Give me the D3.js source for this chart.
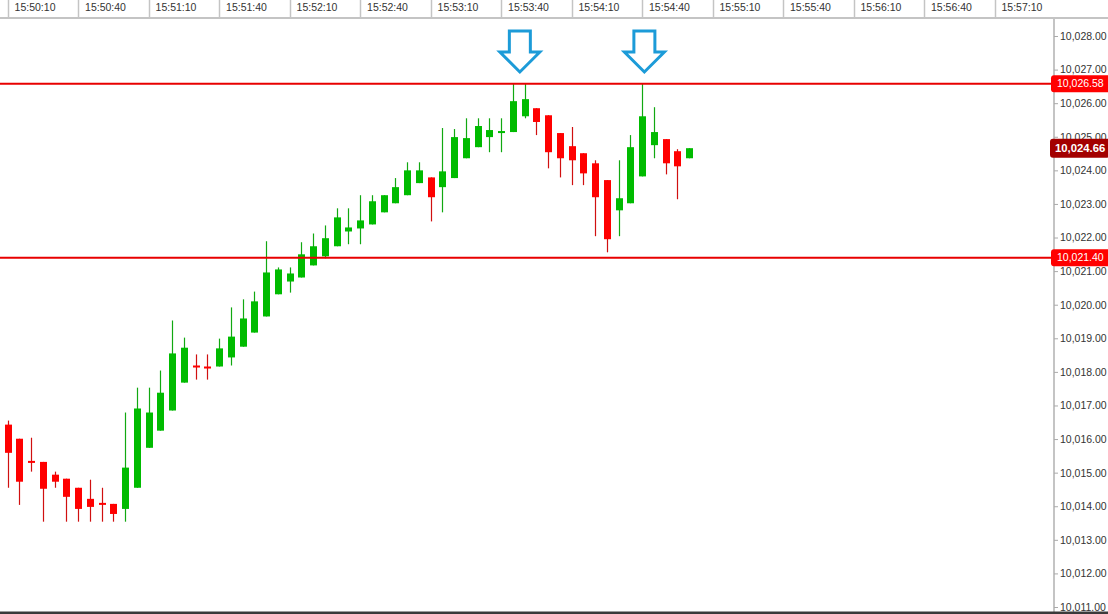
<!DOCTYPE html>
<html>
<head>
<meta charset="utf-8">
<script src="https://cdn.jsdelivr.net/npm/d3@7"></script>
<style>
html, body { margin: 0; padding: 0; background: #fff; }
svg { display: block; font-family: "Liberation Sans", Arial, sans-serif; }
</style>
</head>
<body>
<svg id="chart" width="1108" height="614"></svg>
<script>
// 5 second bars
var times = ["15:50:10","15:50:15","15:50:20","15:50:25","15:50:30","15:50:35","15:50:40","15:50:45","15:50:50","15:50:55",
  "15:51:00","15:51:05","15:51:10","15:51:15","15:51:20","15:51:25","15:51:30","15:51:35","15:51:40","15:51:45","15:51:50","15:51:55",
  "15:52:00","15:52:05","15:52:10","15:52:15","15:52:20","15:52:25","15:52:30","15:52:35","15:52:40","15:52:45","15:52:50","15:52:55",
  "15:53:00","15:53:05","15:53:10","15:53:15","15:53:20","15:53:25","15:53:30","15:53:35","15:53:40","15:53:45","15:53:50","15:53:55",
  "15:54:00","15:54:05","15:54:10","15:54:15","15:54:20","15:54:25","15:54:30","15:54:35","15:54:40","15:54:45","15:54:50","15:54:55",
  "15:55:00"];
var open = [10016.43,10016.01,10015.35,10015.32,10014.94,10014.82,10014.55,10014.22,10014.10,10014.07,
  10013.92,10014.55,10015.74,10016.25,10016.85,10017.68,10018.19,10018.16,10018.16,10018.43,
  10018.75,10019.17,10019.65,10020.31,10020.69,10020.81,10021.17,10021.44,10021.74,10022.18,
  10022.27,10022.39,10022.75,10023.02,10023.26,10023.62,10023.79,10023.50,10023.77,10024.36,
  10024.69,10024.99,10025.11,10025.14,10025.61,10025.85,10025.64,10025.11,10024.72,10024.51,
  10024.21,10023.71,10022.81,10023.02,10023.82,10024.75,10024.93,10024.57,10024.36];
var high = [10016.55,10016.01,10016.04,10015.32,10015.03,10014.82,10014.55,10014.79,10014.55,10014.07,
  10016.79,10017.53,10017.53,10018.04,10019.53,10019.02,10018.52,10018.52,10018.99,10019.92,
  10020.16,10020.39,10021.89,10021.11,10021.11,10021.86,10022.12,10022.36,10022.87,10022.87,
  10023.26,10023.26,10023.26,10023.77,10024.24,10024.24,10023.79,10025.26,10025.23,10025.55,
  10025.55,10025.55,10025.55,10026.58,10026.58,10025.85,10025.64,10025.11,10025.29,10024.51,
  10024.30,10023.71,10024.30,10025.05,10026.58,10025.88,10024.93,10024.63,10024.66];
var low = [10014.55,10014.04,10015.03,10013.54,10014.55,10013.54,10013.54,10013.54,10013.54,10013.54,
  10013.54,10014.55,10015.74,10016.25,10016.85,10017.68,10017.77,10017.77,10018.16,10018.19,
  10018.75,10019.17,10019.65,10020.31,10020.36,10020.81,10021.17,10021.38,10021.74,10021.80,
  10021.80,10022.39,10022.75,10023.02,10023.26,10023.62,10022.48,10022.75,10023.77,10024.36,
  10024.69,10024.54,10024.54,10025.14,10025.55,10025.05,10024.06,10023.79,10023.56,10023.56,
  10022.04,10021.56,10022.04,10023.02,10023.82,10024.36,10023.88,10023.14,10024.36];
var close = [10015.59,10014.73,10015.29,10014.52,10014.73,10014.28,10013.92,10013.98,10014.04,10013.77,
  10015.15,10016.91,10016.79,10017.38,10018.55,10018.72,10018.13,10018.10,10018.70,10019.05,
  10019.59,10020.10,10020.96,10021.05,10020.93,10021.50,10021.74,10021.98,10022.60,10022.30,
  10022.51,10023.08,10023.26,10023.50,10024.00,10024.00,10023.20,10023.97,10024.99,10024.96,
  10025.32,10025.20,10025.17,10026.06,10026.12,10025.44,10024.54,10024.36,10024.30,10023.91,
  10023.20,10021.95,10023.17,10024.69,10025.61,10025.14,10024.21,10024.12,10024.66];

var timeTicks = ["15:50:10","15:50:40","15:51:10","15:51:40","15:52:10","15:52:40","15:53:10","15:53:40",
  "15:54:10","15:54:40","15:55:10","15:55:40","15:56:10","15:56:40","15:57:10"];
var priceTicks = [10011,10012,10013,10014,10015,10016,10017,10018,10019,10020,
  10021,10022,10023,10024,10025,10026,10027,10028];
var levels = [10026.58, 10021.40];
var lastPrice = 10024.66;
var arrowTimes = ["15:53:48", "15:54:41"];
var arrowTip = 10026.93;

var W = 1108, H = 614;
var axisX = 1054, topH = 18;
var svg = d3.select("#chart");
var parse = d3.utcParse("%H:%M:%S");

var x = d3.scaleUtc()
  .domain([parse("15:50:10"), parse("15:57:10")])
  .range([7.6, 994.5]);
var y = d3.scaleLinear()
  .domain([10011, 10028])
  .range([607, 36]);

var bars = times.map(function(t, i) {
  return {t: parse(t), o: open[i], h: high[i], l: low[i], c: close[i]};
});

// top time strip
var tg = svg.append("g");
tg.selectAll("line").data(timeTicks).enter().append("line")
  .attr("x1", function(d) { return Math.round(x(parse(d))) + 0.5; })
  .attr("x2", function(d) { return Math.round(x(parse(d))) + 0.5; })
  .attr("y1", 0).attr("y2", topH)
  .attr("stroke", "#c4c4c4").attr("stroke-width", 1.5);
tg.selectAll("text").data(timeTicks).enter().append("text")
  .attr("x", function(d) { return x(parse(d)) + 7; })
  .attr("y", 11)
  .attr("font-size", "10.5px")
  .attr("fill", "#333")
  .text(function(d) { return d; });
svg.append("line")
  .attr("x1", 0).attr("x2", W).attr("y1", topH).attr("y2", topH)
  .attr("stroke", "#c4c4c4").attr("stroke-width", 2);

// price axis
svg.append("line")
  .attr("x1", axisX).attr("x2", axisX).attr("y1", topH).attr("y2", H)
  .attr("stroke", "#c4c4c4").attr("stroke-width", 2);
var yAxis = svg.append("g")
  .attr("transform", "translate(" + axisX + ",0)")
  .call(d3.axisRight(y).tickValues(priceTicks).tickSize(4).tickPadding(2)
    .tickFormat(d3.format(",.2f")));
yAxis.select(".domain").remove();
yAxis.selectAll(".tick line").attr("stroke", "#aaa");
yAxis.selectAll(".tick text")
  .attr("fill", "#333")
  .attr("font-size", "10.5px")
  .attr("font-family", "Liberation Sans, Arial, sans-serif");

// candles
var cg = svg.append("g");
var bodyW = 7;
var candle = cg.selectAll("g").data(bars).enter().append("g");
candle.append("line")
  .attr("x1", function(d) { return Math.round(x(d.t)) + 0.5; })
  .attr("x2", function(d) { return Math.round(x(d.t)) + 0.5; })
  .attr("y1", function(d) { return y(d.h); })
  .attr("y2", function(d) { return y(d.l); })
  .attr("stroke", function(d) { return d.c >= d.o ? "#11a811" : "#d01010"; })
  .attr("stroke-width", 1.2);
candle.append("rect")
  .attr("x", function(d) { return Math.round(x(d.t)) + 0.5 - bodyW / 2; })
  .attr("y", function(d) { return y(Math.max(d.o, d.c)); })
  .attr("width", bodyW)
  .attr("height", function(d) { return Math.max(2, Math.abs(y(d.o) - y(d.c))); })
  .attr("fill", function(d) { return d.c >= d.o ? "#00bb00" : "#ff0000"; });

// support / resistance lines
svg.selectAll(".level").data(levels).enter().append("line")
  .attr("class", "level")
  .attr("x1", 0).attr("x2", axisX - 2)
  .attr("y1", function(d) { return y(d); })
  .attr("y2", function(d) { return y(d); })
  .attr("stroke", "#e80000").attr("stroke-width", 2);
var lv = svg.selectAll(".lvlabel").data(levels).enter().append("g").attr("class", "lvlabel");
lv.append("rect")
  .attr("x", axisX - 3).attr("width", 60)
  .attr("y", function(d) { return y(d) - 8.5; })
  .attr("height", 17).attr("rx", 3)
  .attr("fill", "#ff0000");
lv.append("text")
  .attr("x", axisX + 3)
  .attr("y", function(d) { return y(d); })
  .attr("dy", "0.36em")
  .attr("font-size", "10.5px")
  .attr("fill", "#fff")
  .text(function(d) { return d3.format(",.2f")(d); });

// last price tag
svg.append("rect")
  .attr("x", axisX - 4).attr("width", 60)
  .attr("y", y(lastPrice) - 9.5).attr("height", 19).attr("rx", 3)
  .attr("fill", "#a30000");
svg.append("text")
  .attr("x", axisX + 1).attr("y", y(lastPrice)).attr("dy", "0.36em")
  .attr("font-size", "11.3px").attr("font-weight", "bold")
  .attr("fill", "#fff")
  .text(d3.format(",.2f")(lastPrice));

// arrows over the two tops
svg.selectAll(".arrow").data(arrowTimes).enter().append("path")
  .attr("class", "arrow")
  .attr("transform", function(d) { return "translate(" + x(parse(d)) + "," + y(arrowTip) + ")"; })
  .attr("d", "M0,0 L-20,-20 L-10.5,-20 L-10.5,-41 L10.5,-41 L10.5,-20 L20,-20 Z")
  .attr("fill", "none")
  .attr("stroke", "#1c9bd8")
  .attr("stroke-width", 3);

// bottom edge
svg.append("rect")
  .attr("x", 0).attr("y", H - 2.5).attr("width", W).attr("height", 2.5)
  .attr("fill", "#3a3a3a");
</script>
</body>
</html>
